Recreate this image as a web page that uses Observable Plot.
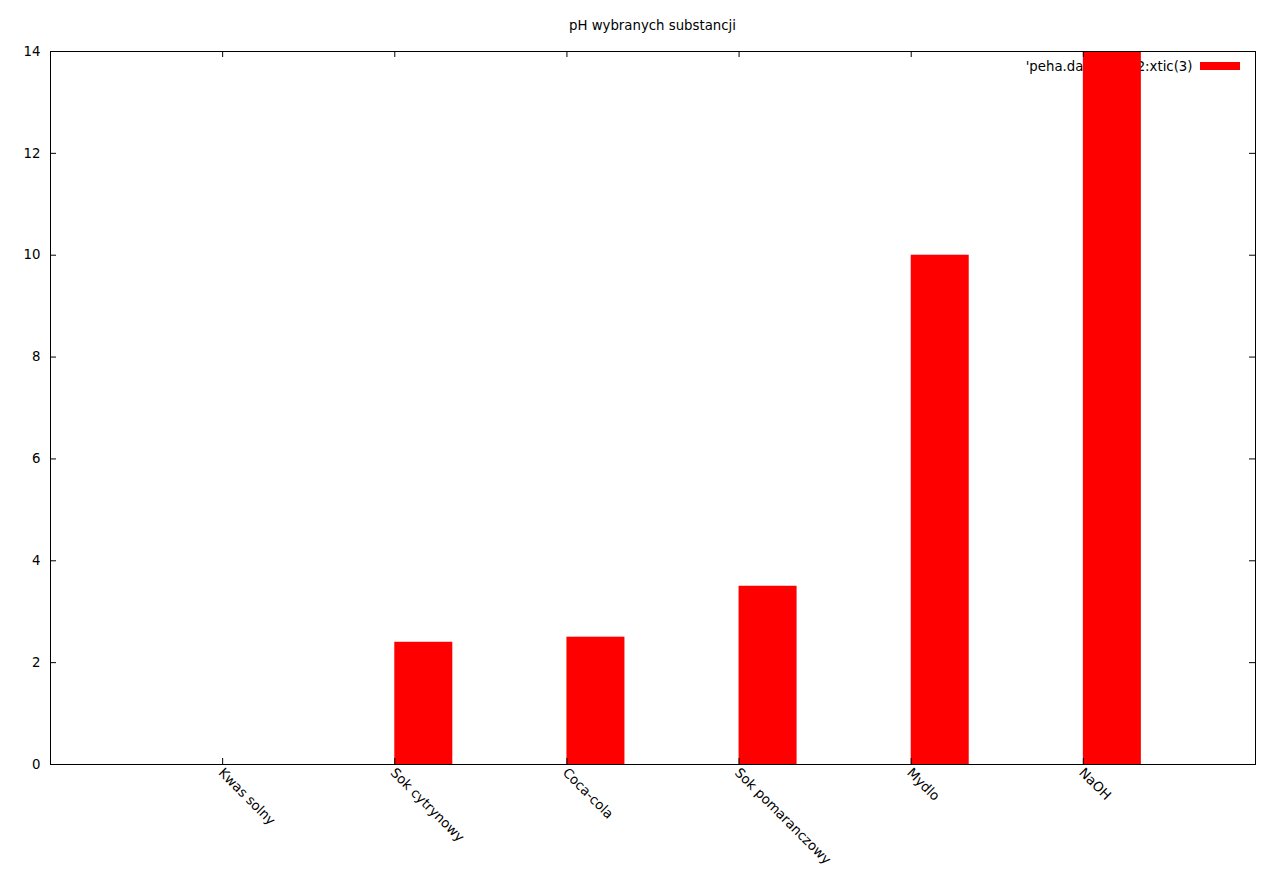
<!DOCTYPE html>
<html>
<head>
<meta charset="utf-8">
<script src="https://cdn.jsdelivr.net/npm/d3@7"></script>
<script src="https://cdn.jsdelivr.net/npm/@observablehq/plot@0.6"></script>
<style>
  html, body { margin: 0; padding: 0; background: #fff; }
  #chart { position: relative; width: 1280px; height: 894px; }
  #title { position: absolute; left: 50px; width: 1205px; top: 18px; text-align: center;
           font: 13.3px "DejaVu Sans", sans-serif; color: #000; line-height: 16px; }
  #plot { position: absolute; left: 0; top: 0; }
</style>
</head>
<body>
<div id="chart">
  <div id="plot"></div>
  <div id="title">pH wybranych substancji</div>
</div>
<script>
const categories = ["Kwas solny", "Sok cytrynowy", "Coca-cola", "Sok pomaranczowy", "Mydlo", "NaOH"];
const phValues = [0, 2.4, 2.5, 3.5, 10, 14];
const yTicks = [0, 2, 4, 6, 8, 10, 12, 14];
const xTicks = [0, 1, 2, 3, 4, 5];
const legendLabel = "'peha.dat' using 2:xtic(3)";
const boxWidth = 0.337;

const data = categories.map((c, i) => ({name: c, i, v: phValues[i]}));

const font = '"DejaVu Sans", sans-serif';
const fs = 13.3;

const plot = Plot.plot({
  width: 1280,
  height: 894,
  marginLeft: 50,
  marginRight: 25,
  marginTop: 51,
  marginBottom: 130,
  style: {fontFamily: font, fontSize: fs + "px", background: "#fff", color: "#000"},
  x: {type: "linear", domain: [-1, 6]},
  y: {type: "linear", domain: [0, 14]},
  marks: [
    // legend text (under the bars)
    Plot.text([legendLabel], {frameAnchor: "top-right", text: d => d, dx: -63, dy: 10,
      lineAnchor: "top", textAnchor: "end", fontSize: fs, fill: "#000"}),
    // legend swatch
    Plot.rect([legendLabel], {insetLeft: 1150, insetRight: 15, insetTop: 11, insetBottom: 694, fill: "red"}),
    // bars
    Plot.rectY(data, {x1: "i", x2: d => d.i + boxWidth, y1: 0, y2: "v", fill: "red"}),
    // frame
    Plot.frame({stroke: "#000", strokeWidth: 1}),
    // inward ticks left/right
    Plot.tickY(yTicks, {y: d => d, insetRight: 1205 - 6, stroke: "#000"}),
    Plot.tickY(yTicks, {y: d => d, insetLeft: 1205 - 6, stroke: "#000"}),
    // inward ticks bottom/top
    Plot.tickX(xTicks, {x: d => d, insetTop: 713 - 6, stroke: "#000"}),
    Plot.tickX(xTicks, {x: d => d, insetBottom: 713 - 6, stroke: "#000"}),
    // axis labels
    Plot.axisY({ticks: yTicks, tickSize: 0, tickPadding: 10, label: null, fontSize: fs}),
    Plot.axisX({ticks: xTicks, tickSize: 0, tickPadding: 6, tickRotate: 45, label: null,
      dx: -2, tickFormat: i => categories[i], fontSize: fs})
  ]
});
document.getElementById("plot").appendChild(plot);
</script>
</body>
</html>
